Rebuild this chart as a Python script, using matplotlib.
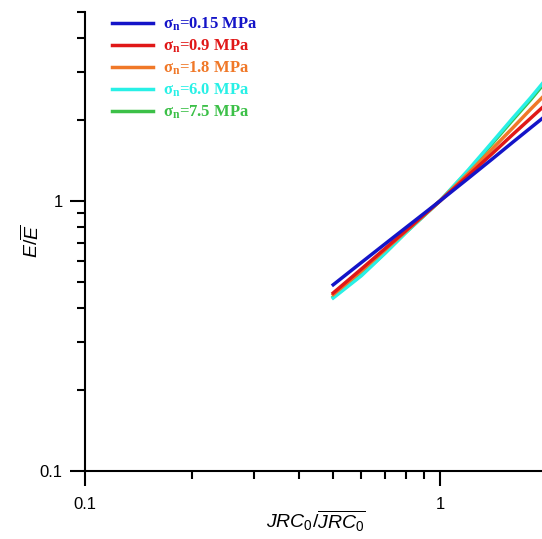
import matplotlib
matplotlib.use('Agg')
import matplotlib.pyplot as plt
import matplotlib.ticker as mticker

plt.rcParams['font.family'] = ['Liberation Sans', 'DejaVu Sans']
plt.rcParams['mathtext.fontset'] = 'custom'
plt.rcParams['mathtext.rm'] = 'Liberation Sans'
plt.rcParams['mathtext.it'] = 'Liberation Sans:italic'
plt.rcParams['mathtext.bf'] = 'Liberation Serif:bold'

# ==================== DATA ====================
jrc_ratio = [0.5, 0.6, 0.7, 0.8, 0.9, 1.0, 1.2, 1.4, 1.6, 1.8, 2.0]

e_015 = [0.489, 0.591, 0.693, 0.795, 0.897, 1.0, 1.211, 1.426, 1.646, 1.865, 2.085]
e_09 = [0.456, 0.559, 0.666, 0.775, 0.887, 1.0, 1.240, 1.493, 1.758, 2.024, 2.297]
e_18 = [0.450, 0.550, 0.659, 0.770, 0.884, 1.0, 1.263, 1.554, 1.859, 2.186, 2.514]
e_60 = [0.437, 0.528, 0.640, 0.762, 0.881, 1.0, 1.300, 1.645, 2.020, 2.410, 2.850]
e_75 = [0.440, 0.532, 0.642, 0.763, 0.880, 1.0, 1.290, 1.625, 1.990, 2.370, 2.800]

labels = ['0.15', '0.9', '1.8', '6.0', '7.5']

# ==================== CHART ====================
fig = plt.figure(figsize=(5.42, 5.39), dpi=100)
ax = fig.add_axes([85 / 542, 68 / 539, 462 / 542, 459 / 539])

series = [
    (e_015, '#1414c8', labels[0]),
    (e_09, '#e01818', labels[1]),
    (e_18, '#f07828', labels[2]),
    (e_60, '#28f0e6', labels[3]),
    (e_75, '#3cc048', labels[4]),
]
zorders = [6, 5, 4, 3, 2]
for (vals, col, lab), z in zip(series, zorders):
    ax.plot(jrc_ratio, vals, color=col, linewidth=2.5, zorder=z,
            label=r'$\mathbf{\sigma_n}$' + '=' + lab + ' MPa')

ax.set_xscale('log')
ax.set_yscale('log')
ax.set_xlim(0.1, 2)
ax.set_ylim(0.1, 5)

ax.xaxis.set_major_locator(mticker.FixedLocator([0.1, 1]))
ax.yaxis.set_major_locator(mticker.FixedLocator([0.1, 1]))
ax.xaxis.set_major_formatter(mticker.FixedFormatter(['0.1', '1']))
ax.yaxis.set_major_formatter(mticker.FixedFormatter(['0.1', '1']))
ax.xaxis.set_minor_locator(mticker.LogLocator(base=10, subs=range(2, 10)))
ax.yaxis.set_minor_locator(mticker.LogLocator(base=10, subs=range(2, 10)))
ax.xaxis.set_minor_formatter(mticker.NullFormatter())
ax.yaxis.set_minor_formatter(mticker.NullFormatter())

ax.tick_params(which='major', direction='out', length=11, width=1.5, labelsize=12, pad=5)
ax.tick_params(which='minor', direction='out', length=6, width=1.5)
ax.tick_params(axis='x', which='major', pad=8)

for s in ['top', 'right']:
    ax.spines[s].set_visible(False)
for s in ['left', 'bottom']:
    ax.spines[s].set_linewidth(1.5)

ax.set_xlabel(r'$JRC_{\mathit{0}}/\overline{JRC_{\mathit{0}}}$', fontsize=14, labelpad=-3)
ax.set_ylabel(r'$E/\overline{E}$', fontsize=14, labelpad=-2)

leg = ax.legend(loc='upper left', bbox_to_anchor=(0.025, 1.025), frameon=False,
                prop={'family': 'Liberation Serif', 'weight': 'bold', 'size': 12},
                handlelength=2.5, handletextpad=0.6, labelspacing=0.28,
                labelcolor='linecolor')
for line in leg.get_lines():
    line.set_linewidth(2.5)

plt.savefig('out.png', dpi=100, facecolor='white')
plt.close()
